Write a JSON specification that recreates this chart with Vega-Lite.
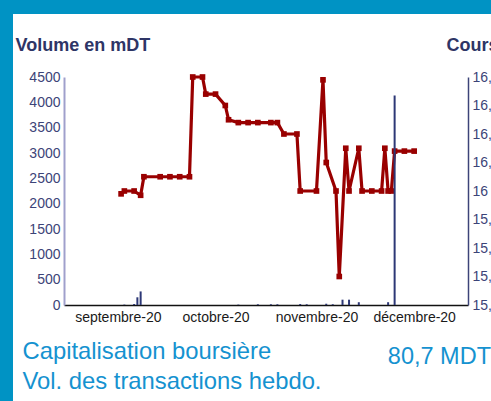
{
  "$schema": "https://vega.github.io/schema/vega-lite/v6.json",
  "width": 478,
  "height": 387,
  "autosize": {"type": "none"},
  "padding": {"left": 13, "top": 14, "right": 0, "bottom": 0},
  "background": "#0093c4",
  "view": {"fill": "#ffffff", "stroke": null},
  "config": {"font": "Liberation Sans"},
  "title": {"text": "80,7 MDT", "orient": "top", "anchor": "end", "frame": "group", "baseline": "alphabetic", "offset": -373, "fontSize": 23.5, "fontWeight": "normal", "color": "#1592d0"},
  "datasets": {
    "prices": [
      {"date": "2020-09-02", "price": 15.98},
      {"date": "2020-09-03", "price": 16.0},
      {"date": "2020-09-06", "price": 16.0},
      {"date": "2020-09-08", "price": 15.97},
      {"date": "2020-09-09", "price": 16.1},
      {"date": "2020-09-14", "price": 16.1},
      {"date": "2020-09-17", "price": 16.1},
      {"date": "2020-09-20", "price": 16.1},
      {"date": "2020-09-23", "price": 16.1},
      {"date": "2020-09-24", "price": 16.8},
      {"date": "2020-09-27", "price": 16.8},
      {"date": "2020-09-28", "price": 16.68},
      {"date": "2020-10-01", "price": 16.68},
      {"date": "2020-10-04", "price": 16.6},
      {"date": "2020-10-05", "price": 16.5},
      {"date": "2020-10-08", "price": 16.48},
      {"date": "2020-10-11", "price": 16.48},
      {"date": "2020-10-14", "price": 16.48},
      {"date": "2020-10-18", "price": 16.48},
      {"date": "2020-10-20", "price": 16.48},
      {"date": "2020-10-22", "price": 16.4},
      {"date": "2020-10-26", "price": 16.4},
      {"date": "2020-10-27", "price": 16.0},
      {"date": "2020-11-01", "price": 16.0},
      {"date": "2020-11-03", "price": 16.78},
      {"date": "2020-11-04", "price": 16.2},
      {"date": "2020-11-07", "price": 16.0},
      {"date": "2020-11-08", "price": 15.4},
      {"date": "2020-11-10", "price": 16.3},
      {"date": "2020-11-11", "price": 16.0},
      {"date": "2020-11-14", "price": 16.3},
      {"date": "2020-11-15", "price": 16.0},
      {"date": "2020-11-18", "price": 16.0},
      {"date": "2020-11-21", "price": 16.0},
      {"date": "2020-11-22", "price": 16.3},
      {"date": "2020-11-23", "price": 16.0},
      {"date": "2020-11-24", "price": 16.0},
      {"date": "2020-11-25", "price": 16.28},
      {"date": "2020-11-28", "price": 16.28},
      {"date": "2020-12-01", "price": 16.28}
    ],
    "volumes": [
      {"date": "2020-09-03", "volume": 8},
      {"date": "2020-09-06", "volume": 20},
      {"date": "2020-09-07", "volume": 152},
      {"date": "2020-09-08", "volume": 268},
      {"date": "2020-10-08", "volume": 8},
      {"date": "2020-10-14", "volume": 15},
      {"date": "2020-10-18", "volume": 15},
      {"date": "2020-10-20", "volume": 15},
      {"date": "2020-10-27", "volume": 20},
      {"date": "2020-10-29", "volume": 15},
      {"date": "2020-11-04", "volume": 25},
      {"date": "2020-11-06", "volume": 15},
      {"date": "2020-11-09", "volume": 105},
      {"date": "2020-11-11", "volume": 105},
      {"date": "2020-11-14", "volume": 55},
      {"date": "2020-11-23", "volume": 55},
      {"date": "2020-11-25", "volume": 4135}
    ]
  },
  "layer": [
    {
      "data": {"name": "prices"},
      "mark": {"type": "line", "color": "#990000", "strokeWidth": 3.2, "point": {"shape": "square", "size": 32, "filled": true, "color": "#990000"}},
      "encoding": {
        "x": {
          "field": "date", "type": "temporal",
          "scale": {"type": "utc", "domain": [{"year": 2020, "month": 8, "date": 17, "utc": true}, {"year": 2020, "month": 12, "date": 16, "utc": true}], "range": [51, 455]},
          "axis": {
            "orient": "bottom", "offset": -96,
            "values": [{"year": 2020, "month": 9, "date": 1, "utc": true}, {"year": 2020, "month": 10, "date": 1, "utc": true}, {"year": 2020, "month": 11, "date": 1, "utc": true}, {"year": 2020, "month": 12, "date": 1, "utc": true}],
            "labelExpr": "['janvier','février','mars','avril','mai','juin','juillet','août','septembre','octobre','novembre','décembre'][utcmonth(datum.value)] + '-' + utcFormat(datum.value, '%y')",
            "labelFontSize": 14, "labelColor": "#1a1a1a", "labelPadding": 5, "labelFlush": false, "labelOverlap": false,
            "ticks": false, "grid": false, "domainColor": "#111111", "domainWidth": 1.5,
            "title": ["Capitalisation boursière", "Vol. des transactions hebdo."],
            "titleX": 9, "titleY": 53, "titleAlign": "left", "titleBaseline": "alphabetic",
            "titleFontSize": 23.8, "titleFontWeight": "normal", "titleColor": "#1592d0", "titleLineHeight": 30.5
          }
        },
        "y": {
          "field": "price", "type": "quantitative",
          "scale": {"domain": [15.2, 16.8], "range": [291, 63], "nice": false, "zero": false},
          "axis": {
            "orient": "right", "offset": -23,
            "values": [15.2, 15.4, 15.6, 15.8, 16, 16.2, 16.4, 16.6, 16.8],
            "labelExpr": "replace(format(datum.value, '~f'), '.', ',')",
            "labelFontSize": 14, "labelColor": "#3c4478", "labelPadding": 4,
            "ticks": false, "grid": false, "domainColor": "#3c4478", "domainWidth": 1.5,
            "title": "Cours en DT", "titleAngle": 0, "titleX": -22, "titleY": 36, "titleAlign": "left", "titleBaseline": "alphabetic",
            "titleFontSize": 18, "titleFontWeight": "bold", "titleColor": "#2e3566"
          }
        }
      }
    },
    {
      "data": {"name": "volumes"},
      "mark": {"type": "bar", "color": "#2d3876", "size": 2},
      "encoding": {
        "x": {"field": "date", "type": "temporal"},
        "y": {
          "field": "volume", "type": "quantitative",
          "scale": {"domain": [0, 4500], "range": [291, 63], "nice": false},
          "axis": {
            "orient": "left", "offset": -51,
            "values": [0, 500, 1000, 1500, 2000, 2500, 3000, 3500, 4000, 4500],
            "format": "d",
            "labelFontSize": 14, "labelColor": "#3c4478", "labelPadding": 4,
            "ticks": false, "grid": false, "domainColor": "#a0a0cc", "domainWidth": 2,
            "title": "Volume en mDT", "titleAngle": 0, "titleX": -49, "titleY": 36, "titleAlign": "left", "titleBaseline": "alphabetic",
            "titleFontSize": 18, "titleFontWeight": "bold", "titleColor": "#2e3566"
          }
        }
      }
    }
  ],
  "resolve": {"scale": {"y": "independent"}}
}
